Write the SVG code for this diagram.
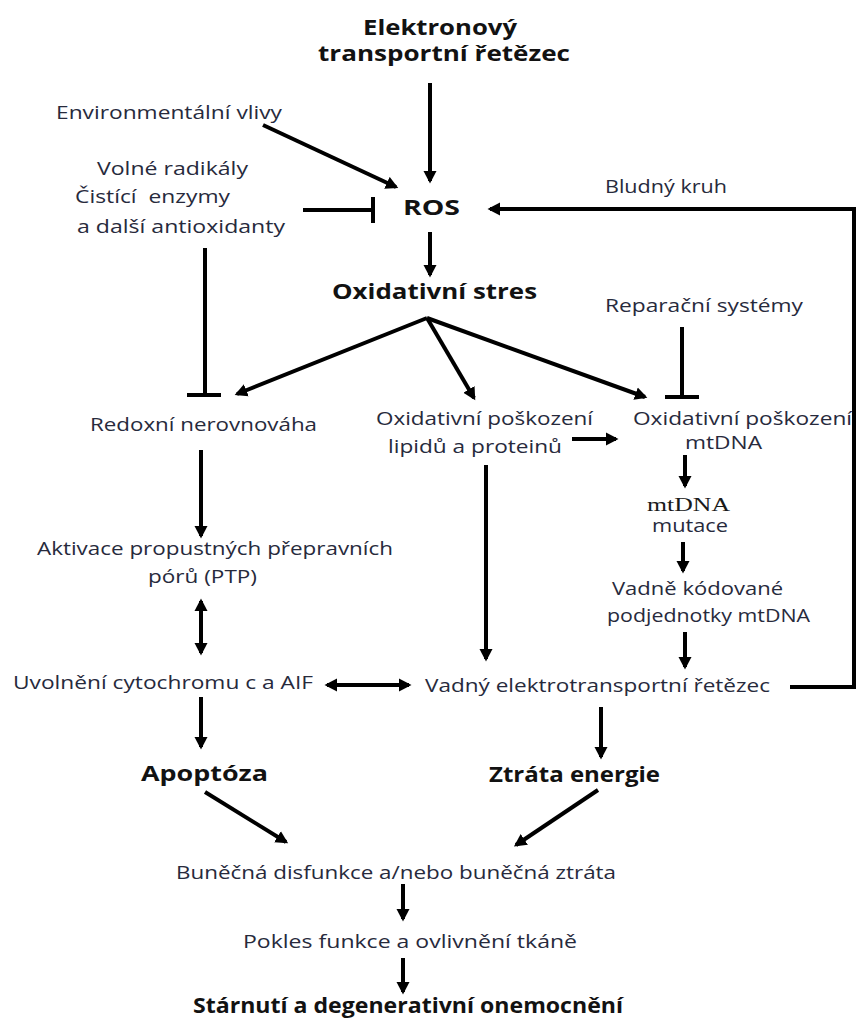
<svg xmlns="http://www.w3.org/2000/svg" width="856" height="1021" viewBox="0 0 856 1021">
<style>
.t{font-family:"Open Sans","Liberation Sans",sans-serif;font-size:18px;fill:#272a3c}
.b{font-family:"Open Sans","Liberation Sans",sans-serif;font-size:21px;font-weight:bold;fill:#121212}
.s{font-family:"Liberation Serif","Times New Roman",serif;font-size:19px;fill:#1a1a1a}
.c{stroke:#000;stroke-width:4;fill:none}
.a{marker-end:url(#ah)}
.d{marker-start:url(#ah);marker-end:url(#ah)}
</style>
<defs>
<marker id="ah" markerUnits="userSpaceOnUse" markerWidth="16" markerHeight="16" refX="10" refY="7" orient="auto-start-reverse">
<path d="M0,0.5 L12.5,7 L0,13.5 z" fill="#000"/>
</marker>
</defs>
<rect width="856" height="1021" fill="#fff"/>
<g id="connectors">
<line class="c a" x1="430" y1="83" x2="430" y2="181"/>
<line class="c a" x1="263" y1="125" x2="396" y2="187"/>
<line class="c" x1="303" y1="210" x2="373" y2="210"/>
<line class="c" x1="373" y1="197" x2="373" y2="223" stroke-width="4.5"/>
<polyline class="c a" points="790,687 854,687 854,209 490,209"/>
<line class="c a" x1="430" y1="232" x2="430" y2="275"/>
<line class="c a" x1="427" y1="318" x2="237" y2="394"/>
<line class="c a" x1="427" y1="318" x2="474" y2="398"/>
<line class="c a" x1="427" y1="318" x2="645" y2="397"/>
<line class="c" x1="682" y1="327" x2="682" y2="396"/>
<line class="c" x1="665" y1="397" x2="699" y2="397" stroke-width="4.5"/>
<line class="c" x1="205" y1="248" x2="205" y2="394"/>
<line class="c" x1="187" y1="395" x2="221" y2="395" stroke-width="4.5"/>
<line class="c a" x1="572" y1="439" x2="616" y2="439"/>
<line class="c a" x1="685" y1="455" x2="685" y2="486"/>
<line class="c a" x1="683" y1="542" x2="683" y2="571"/>
<line class="c a" x1="685" y1="632" x2="685" y2="667"/>
<line class="c a" x1="486" y1="465" x2="486" y2="659"/>
<line class="c a" x1="201" y1="450" x2="201" y2="536"/>
<line class="c d" x1="201" y1="601" x2="201" y2="653"/>
<line class="c d" x1="327" y1="685" x2="409" y2="685"/>
<line class="c a" x1="201" y1="697" x2="201" y2="747"/>
<line class="c a" x1="601" y1="707" x2="601" y2="757"/>
<line class="c a" x1="205" y1="792" x2="286" y2="842"/>
<line class="c a" x1="598" y1="790" x2="516" y2="845"/>
<line class="c a" x1="403" y1="884" x2="403" y2="919"/>
<line class="c a" x1="403" y1="958" x2="403" y2="992"/>
</g>
<g id="n-etc"><text class="b" x="363" y="35" textLength="154" lengthAdjust="spacingAndGlyphs">Elektronový</text><text class="b" x="318" y="61" textLength="252" lengthAdjust="spacingAndGlyphs">transportní řetězec</text></g>
<g id="n-env"><text class="t" x="56" y="119" textLength="226" lengthAdjust="spacingAndGlyphs">Environmentální vlivy</text></g>
<g id="n-antiox"><text class="t" x="97" y="175" textLength="151" lengthAdjust="spacingAndGlyphs">Volné radikály</text><text class="t" x="75" y="203" textLength="155" lengthAdjust="spacingAndGlyphs" xml:space="preserve">Čistící  enzymy</text><text class="t" x="77" y="233" textLength="208" lengthAdjust="spacingAndGlyphs">a další antioxidanty</text></g>
<g id="n-ros"><text class="b" x="403" y="215" textLength="57" lengthAdjust="spacingAndGlyphs">ROS</text></g>
<g id="n-bludny"><text class="t" x="605" y="193" textLength="122" lengthAdjust="spacingAndGlyphs">Bludný kruh</text></g>
<g id="n-stres"><text class="b" x="332" y="299" textLength="205" lengthAdjust="spacingAndGlyphs">Oxidativní stres</text></g>
<g id="n-repar"><text class="t" x="605" y="312" textLength="198" lengthAdjust="spacingAndGlyphs">Reparační systémy</text></g>
<g id="n-redox"><text class="t" x="90" y="431" textLength="227" lengthAdjust="spacingAndGlyphs">Redoxní nerovnováha</text></g>
<g id="n-lipid"><text class="t" x="376" y="425" textLength="217" lengthAdjust="spacingAndGlyphs">Oxidativní poškození</text><text class="t" x="388" y="453" textLength="174" lengthAdjust="spacingAndGlyphs">lipidů a proteinů</text></g>
<g id="n-mtdmg"><text class="t" x="633" y="425" textLength="219" lengthAdjust="spacingAndGlyphs">Oxidativní poškození</text><text class="t" x="685" y="449" textLength="77" lengthAdjust="spacingAndGlyphs">mtDNA</text></g>
<g id="n-mut"><text class="s" x="647" y="511" textLength="83" lengthAdjust="spacingAndGlyphs">mtDNA</text><text class="t" x="652" y="532" textLength="76" lengthAdjust="spacingAndGlyphs">mutace</text></g>
<g id="n-vadne"><text class="t" x="612" y="595" textLength="171" lengthAdjust="spacingAndGlyphs">Vadně kódované</text><text class="t" x="607" y="622" textLength="203" lengthAdjust="spacingAndGlyphs">podjednotky mtDNA</text></g>
<g id="n-ptp"><text class="t" x="37" y="555" textLength="356" lengthAdjust="spacingAndGlyphs">Aktivace propustných přepravních</text><text class="t" x="148" y="583" textLength="109" lengthAdjust="spacingAndGlyphs">pórů (PTP)</text></g>
<g id="n-cyt"><text class="t" x="13" y="689" textLength="300" lengthAdjust="spacingAndGlyphs">Uvolnění cytochromu c a AIF</text></g>
<g id="n-vetc"><text class="t" x="425" y="692" textLength="345" lengthAdjust="spacingAndGlyphs">Vadný elektrotransportní řetězec</text></g>
<g id="n-apop"><text class="b" x="141" y="781" textLength="127" lengthAdjust="spacingAndGlyphs">Apoptóza</text></g>
<g id="n-ztrata"><text class="b" x="489" y="782" textLength="171" lengthAdjust="spacingAndGlyphs">Ztráta energie</text></g>
<g id="n-bun"><text class="t" x="176" y="879" textLength="440" lengthAdjust="spacingAndGlyphs">Buněčná disfunkce a/nebo buněčná ztráta</text></g>
<g id="n-pokles"><text class="t" x="243" y="948" textLength="334" lengthAdjust="spacingAndGlyphs">Pokles funkce a ovlivnění tkáně</text></g>
<g id="n-starn"><text class="b" x="193" y="1013" textLength="430" lengthAdjust="spacingAndGlyphs">Stárnutí a degenerativní onemocnění</text></g>
</svg>
